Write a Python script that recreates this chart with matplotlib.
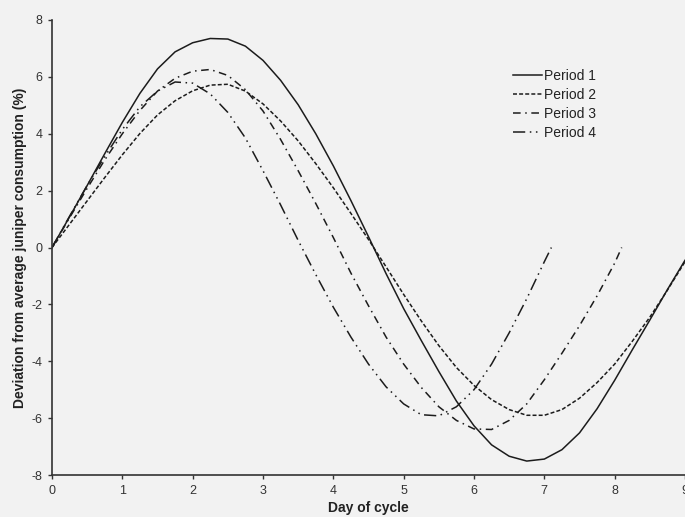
import matplotlib
matplotlib.use("Agg")
import matplotlib.pyplot as plt

# Day of cycle sample positions
days_12 = [0, 0.25, 0.5, 0.75, 1.0, 1.25, 1.5, 1.75, 2.0, 2.25, 2.5, 2.75, 3.0, 3.25,
           3.5, 3.75, 4.0, 4.25, 4.5, 4.75, 5.0, 5.25, 5.5, 5.75, 6.0, 6.25, 6.5, 6.75,
           7.0, 7.25, 7.5, 7.75, 8.0, 8.25, 8.5, 8.75, 9.0]
period1 = [0, 1.08, 2.18, 3.3, 4.4, 5.42, 6.28, 6.88, 7.2, 7.35, 7.33, 7.08, 6.58, 5.88,
           5.02, 4.0, 2.87, 1.65, 0.38, -0.92, -2.15, -3.27, -4.36, -5.4, -6.27, -6.94, -7.34, -7.51,
           -7.44, -7.11, -6.52, -5.67, -4.67, -3.6, -2.55, -1.48, -0.45]
period2 = [0, 0.82, 1.64, 2.46, 3.26, 4.01, 4.66, 5.16, 5.51, 5.71, 5.74, 5.5, 5.05, 4.45,
           3.75, 2.95, 2.1, 1.2, 0.28, -0.68, -1.65, -2.58, -3.45, -4.22, -4.85, -5.35, -5.7, -5.9,
           -5.9, -5.7, -5.3, -4.75, -4.1, -3.3, -2.45, -1.5, -0.5]

days_3 = [0, 0.25, 0.5, 0.75, 1.0, 1.25, 1.5, 1.75, 2.0, 2.25, 2.5, 2.75, 3.0, 3.25,
          3.5, 3.75, 4.0, 4.25, 4.5, 4.75, 5.0, 5.25, 5.5, 5.75, 6.0, 6.25, 6.5, 6.75,
          7.0, 7.25, 7.5, 7.75, 8.0, 8.1]
period3 = [0, 1.05, 2.08, 3.08, 4.0, 4.82, 5.5, 5.95, 6.2, 6.26, 6.05, 5.55, 4.8, 3.8,
           2.7, 1.55, 0.35, -0.9, -2.05, -3.15, -4.1, -4.92, -5.6, -6.08, -6.38, -6.4, -6.08, -5.5,
           -4.65, -3.72, -2.75, -1.7, -0.55, 0.0]

days_4 = [0, 0.25, 0.5, 0.75, 1.0, 1.25, 1.5, 1.75, 2.0, 2.25, 2.5, 2.75, 3.0, 3.25,
          3.5, 3.75, 4.0, 4.25, 4.5, 4.75, 5.0, 5.25, 5.5, 5.75, 6.0, 6.25, 6.5, 6.75,
          7.0, 7.1]
period4 = [0, 1.1, 2.18, 3.2, 4.15, 4.95, 5.5, 5.82, 5.78, 5.4, 4.75, 3.85, 2.7, 1.5,
           0.25, -0.95, -2.1, -3.15, -4.1, -4.9, -5.5, -5.88, -5.92, -5.6, -5.0, -4.1, -3.0, -1.8,
           -0.5, 0.0]

labels = ["Period 1", "Period 2", "Period 3", "Period 4"]
x_ticks = [0, 1, 2, 3, 4, 5, 6, 7, 8, 9]
y_ticks = [-8, -6, -4, -2, 0, 2, 4, 6, 8]

plt.rcParams['font.family'] = ['Liberation Sans', 'DejaVu Sans']

bg = '#f2f2f2'
fig = plt.figure(figsize=(6.85, 5.17), dpi=100, facecolor=bg)
ax = fig.add_axes([52/685, 1 - 475/517, 1 - 52/685, (475 - 20)/517])
ax.set_facecolor(bg)

lc = '#1c1c1c'
lw = 1.1
ax.plot(days_12, period1, color=lc, lw=lw, ls='-', label=labels[0])
ax.plot(days_12, period2, color=lc, lw=lw, ls=(0, (2.6, 1.4)), label=labels[1])
ax.plot(days_3, period3, color=lc, lw=lw, ls=(0, (5, 3, 1, 3)), label=labels[2])
ax.plot(days_4, period4, color=lc, lw=lw, ls=(0, (8, 3, 1, 3, 1, 3)), label=labels[3])

ax.set_xlim(0, 9)
ax.set_ylim(-8, 8)
ax.set_xticks(x_ticks)
ax.set_yticks(y_ticks)
ax.set_xticklabels([str(v) for v in x_ticks])
ax.set_yticklabels([str(v) for v in y_ticks])

for s in ['top', 'right']:
    ax.spines[s].set_visible(False)
for s in ['left', 'bottom']:
    ax.spines[s].set_color('#333333')
    ax.spines[s].set_linewidth(1.2)
ax.tick_params(direction='out', length=3, width=1, color='#333333',
               labelsize=9, labelcolor='#333333', pad=4)

ax.set_xlabel('Day of cycle', fontsize=10, fontweight='bold', color='#222222', labelpad=3)
ax.set_ylabel('Deviation from average juniper consumption (%)', fontsize=10,
              fontweight='bold', color='#222222', labelpad=3)

leg = ax.legend(loc='upper left', bbox_to_anchor=(513/685, 1 - 69/517),
                bbox_transform=fig.transFigure, frameon=False, fontsize=10,
                handlelength=2.1, handletextpad=0.15, labelspacing=0.36, borderpad=0,
                borderaxespad=0)
for t in leg.get_texts():
    t.set_color('#222222')

fig.savefig('out.png', dpi=100, facecolor=bg)
